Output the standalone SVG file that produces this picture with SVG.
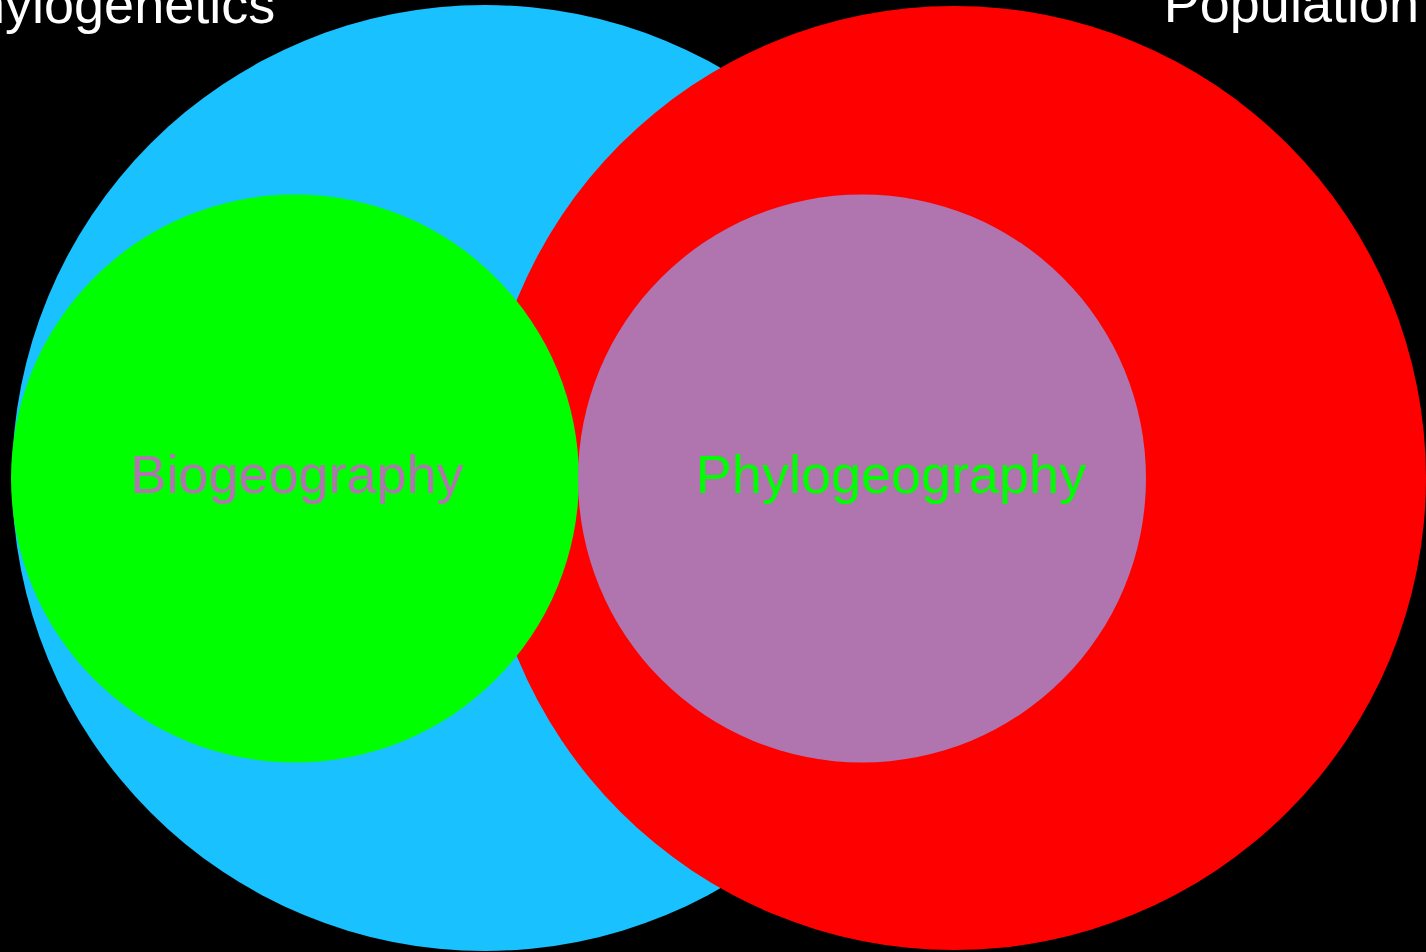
<svg xmlns="http://www.w3.org/2000/svg" width="1426" height="952" viewBox="0 0 1426 952">
<style>
text{font-family:"Liberation Sans",Arial,sans-serif;font-size:54px}
.w{fill:#ffffff}
</style>
<rect x="0" y="0" width="1426" height="952" fill="#000000"/>
<g id="phylogenetics">
<circle cx="485" cy="478" r="473" fill="#19c1ff"/>
<text class="w" x="-61" y="23">Phylogenetics</text>
</g>
<g id="population">
<circle cx="954" cy="478" r="472" fill="#ff0000"/>
<text class="w" x="1419" y="22" text-anchor="end">Population</text>
</g>
<g id="biogeography">
<circle cx="295" cy="478.5" r="284" fill="#00ff00"/>
<text x="297" y="493" text-anchor="middle" fill="#b074ae">Biogeography</text>
</g>
<g id="phylogeography">
<circle cx="862" cy="478.5" r="284" fill="#b074ae"/>
<text x="891" y="493" text-anchor="middle" fill="#00ff00">Phylogeography</text>
</g>
<g id="connectors"></g>
</svg>
